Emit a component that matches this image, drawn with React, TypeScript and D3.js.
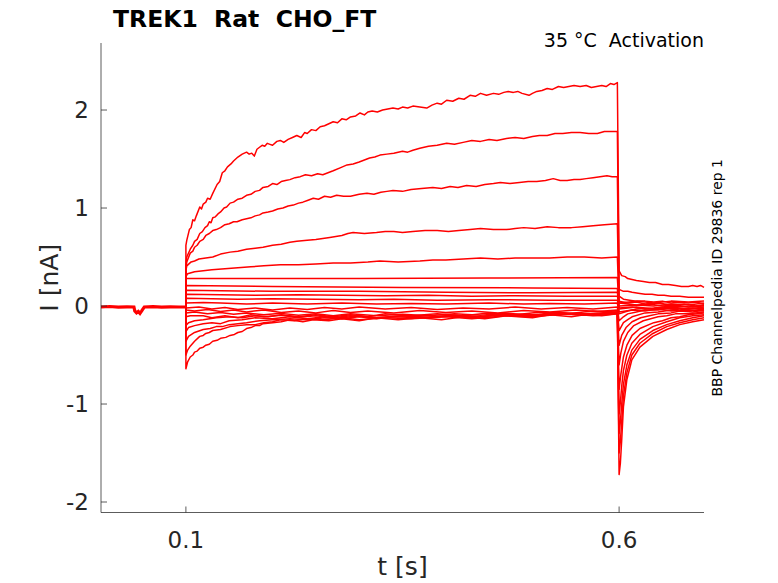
import { useEffect, useRef } from 'react';
import * as d3 from 'd3';

type Pt = [number, number];

// pre-pulse holding current (all sweeps overlap here)
const baseline: Pt[] = [
  [0.002, -0.01], [0.012, -0.005], [0.022, -0.012], [0.032, -0.008], [0.04, -0.01],
  [0.041, -0.05], [0.043, -0.07], [0.045, -0.055], [0.047, -0.075], [0.049, -0.05], [0.0505, -0.03],
  [0.052, -0.01], [0.062, -0.006], [0.072, -0.012], [0.082, -0.008], [0.092, -0.01], [0.1, -0.01],
];

// test pulse (0.1 - 0.6 s) per sweep
const stepA: Pt[] = [
  [0.1, 0.62], [0.101, 0.67], [0.104, 0.78], [0.106, 0.8], [0.108, 0.88], [0.11, 0.87], [0.112, 0.92],
  [0.116, 1.01], [0.118, 0.99], [0.12, 1.04], [0.123, 1.06], [0.125, 1.1], [0.128, 1.09], [0.131, 1.15],
  [0.136, 1.24], [0.139, 1.27], [0.142, 1.36], [0.145, 1.38], [0.148, 1.42], [0.152, 1.45],
  [0.155, 1.48], [0.16, 1.52], [0.165, 1.55], [0.17, 1.57], [0.173, 1.55], [0.176, 1.56],
  [0.179, 1.53], [0.182, 1.6], [0.185, 1.62], [0.188, 1.64], [0.191, 1.63], [0.194, 1.66],
  [0.197, 1.65], [0.2, 1.64], [0.205, 1.68], [0.209, 1.69], [0.213, 1.67], [0.218, 1.7],
  [0.223, 1.72], [0.228, 1.74], [0.233, 1.72], [0.237, 1.77], [0.24, 1.76], [0.245, 1.8],
  [0.25, 1.79], [0.255, 1.83], [0.26, 1.84], [0.265, 1.86], [0.27, 1.88], [0.275, 1.87],
  [0.28, 1.91], [0.285, 1.9], [0.29, 1.93], [0.296, 1.94], [0.301, 1.97], [0.306, 1.95],
  [0.31, 1.98], [0.315, 1.99], [0.321, 1.98], [0.327, 2.0], [0.333, 2.01], [0.339, 2.02],
  [0.345, 2.01], [0.35, 2.03], [0.356, 2.02], [0.362, 2.04], [0.37, 2.03], [0.378, 2.02],
  [0.384, 2.05], [0.39, 2.07], [0.395, 2.06], [0.401, 2.1], [0.408, 2.09], [0.415, 2.12],
  [0.421, 2.11], [0.428, 2.15], [0.434, 2.14], [0.44, 2.17], [0.447, 2.15], [0.455, 2.17],
  [0.461, 2.16], [0.467, 2.18], [0.472, 2.19], [0.478, 2.18], [0.483, 2.19], [0.488, 2.17],
  [0.496, 2.15], [0.5, 2.17], [0.505, 2.19], [0.511, 2.2], [0.517, 2.22], [0.523, 2.21],
  [0.53, 2.24], [0.536, 2.23], [0.542, 2.24], [0.548, 2.25], [0.555, 2.24], [0.562, 2.25],
  [0.568, 2.23], [0.574, 2.24], [0.58, 2.25], [0.585, 2.24], [0.59, 2.27], [0.594, 2.26],
  [0.598, 2.28],
];
const stepB: Pt[] = [
  [0.1, 0.42], [0.101, 0.5], [0.105, 0.58], [0.108, 0.62], [0.11, 0.66], [0.113, 0.68],
  [0.116, 0.74], [0.119, 0.76], [0.122, 0.8], [0.125, 0.82], [0.127, 0.86], [0.129, 0.85],
  [0.131, 0.9], [0.134, 0.91], [0.137, 0.94], [0.14, 0.96], [0.144, 1.0], [0.147, 1.01],
  [0.151, 1.05], [0.155, 1.06], [0.16, 1.09], [0.165, 1.1], [0.17, 1.13], [0.175, 1.14],
  [0.18, 1.17], [0.185, 1.18], [0.189, 1.21], [0.195, 1.22], [0.2, 1.25], [0.205, 1.24],
  [0.21, 1.27], [0.215, 1.28], [0.22, 1.29], [0.226, 1.31], [0.232, 1.32], [0.238, 1.34],
  [0.245, 1.33], [0.252, 1.35], [0.258, 1.34], [0.264, 1.36], [0.27, 1.38], [0.278, 1.41],
  [0.286, 1.44], [0.293, 1.45], [0.3, 1.47], [0.306, 1.49], [0.312, 1.51], [0.318, 1.52],
  [0.324, 1.54], [0.332, 1.55], [0.34, 1.56], [0.35, 1.58], [0.356, 1.57], [0.362, 1.59],
  [0.37, 1.61], [0.38, 1.63], [0.39, 1.64], [0.401, 1.66], [0.41, 1.65], [0.42, 1.67],
  [0.43, 1.69], [0.44, 1.68], [0.45, 1.7], [0.459, 1.69], [0.47, 1.71], [0.48, 1.72],
  [0.49, 1.71], [0.5, 1.73], [0.508, 1.74], [0.517, 1.74], [0.526, 1.76], [0.535, 1.76],
  [0.545, 1.77], [0.555, 1.77], [0.565, 1.76], [0.575, 1.76], [0.583, 1.78], [0.59, 1.78],
  [0.598, 1.78],
];
const stepC: Pt[] = [
  [0.1, 0.38], [0.101, 0.45], [0.105, 0.54], [0.108, 0.56], [0.11, 0.6], [0.113, 0.62],
  [0.116, 0.66], [0.12, 0.68], [0.123, 0.72], [0.127, 0.74], [0.131, 0.77], [0.135, 0.78],
  [0.14, 0.8], [0.145, 0.83], [0.15, 0.84], [0.155, 0.86], [0.159, 0.86], [0.165, 0.88],
  [0.17, 0.89], [0.175, 0.9], [0.18, 0.92], [0.185, 0.93], [0.189, 0.95], [0.195, 0.96],
  [0.2, 0.97], [0.206, 0.99], [0.212, 1.0], [0.218, 1.02], [0.224, 1.03], [0.23, 1.05],
  [0.235, 1.06], [0.241, 1.08], [0.247, 1.1], [0.253, 1.09], [0.26, 1.12], [0.267, 1.11],
  [0.274, 1.13], [0.282, 1.12], [0.29, 1.12], [0.3, 1.14], [0.309, 1.15], [0.317, 1.14],
  [0.325, 1.16], [0.332, 1.17], [0.339, 1.18], [0.35, 1.17], [0.36, 1.19], [0.372, 1.2],
  [0.385, 1.21], [0.395, 1.2], [0.405, 1.22], [0.414, 1.21], [0.424, 1.23], [0.435, 1.22],
  [0.445, 1.24], [0.455, 1.25], [0.463, 1.26], [0.474, 1.25], [0.485, 1.26], [0.495, 1.27],
  [0.505, 1.27], [0.515, 1.28], [0.524, 1.3], [0.532, 1.28], [0.54, 1.28], [0.548, 1.29],
  [0.555, 1.29], [0.562, 1.3], [0.57, 1.31], [0.578, 1.32], [0.586, 1.33], [0.592, 1.32],
  [0.598, 1.32],
];
const stepD: Pt[] = [
  [0.1, 0.36], [0.101, 0.41], [0.106, 0.45], [0.11, 0.46], [0.115, 0.48], [0.123, 0.49],
  [0.131, 0.5], [0.14, 0.53], [0.151, 0.55], [0.16, 0.56], [0.17, 0.58], [0.18, 0.59],
  [0.189, 0.6], [0.2, 0.62], [0.21, 0.63], [0.22, 0.65], [0.228, 0.66], [0.24, 0.67],
  [0.25, 0.68], [0.258, 0.69], [0.266, 0.7], [0.273, 0.71], [0.28, 0.72], [0.287, 0.74],
  [0.293, 0.75], [0.306, 0.74], [0.32, 0.75], [0.33, 0.76], [0.34, 0.76], [0.35, 0.75],
  [0.362, 0.76], [0.376, 0.77], [0.39, 0.77], [0.403, 0.76], [0.415, 0.77], [0.428, 0.78],
  [0.44, 0.79], [0.455, 0.78], [0.47, 0.78], [0.48, 0.79], [0.49, 0.8], [0.503, 0.79],
  [0.517, 0.81], [0.53, 0.8], [0.545, 0.8], [0.558, 0.81], [0.57, 0.82], [0.583, 0.83],
  [0.598, 0.84],
];
const stepE: Pt[] = [
  [0.1, 0.3], [0.102, 0.33], [0.106, 0.34], [0.11, 0.35], [0.12, 0.36], [0.13, 0.37],
  [0.145, 0.38], [0.16, 0.39], [0.175, 0.4], [0.19, 0.41], [0.209, 0.42], [0.23, 0.42],
  [0.25, 0.43], [0.27, 0.44], [0.29, 0.44], [0.31, 0.45], [0.324, 0.46], [0.345, 0.45],
  [0.37, 0.46], [0.385, 0.47], [0.4, 0.47], [0.42, 0.48], [0.44, 0.49], [0.46, 0.48],
  [0.48, 0.49], [0.5, 0.49], [0.52, 0.49], [0.54, 0.5], [0.56, 0.5], [0.58, 0.49], [0.598, 0.5],
];
const stepF: Pt[] = [[0.1, 0.28], [0.15, 0.28], [0.3, 0.28], [0.45, 0.285], [0.598, 0.29]];
const stepG: Pt[] = [[0.1, 0.21], [0.2, 0.2], [0.35, 0.19], [0.5, 0.185], [0.598, 0.18]];
const stepH: Pt[] = [[0.1, 0.16], [0.2, 0.15], [0.3, 0.15], [0.4, 0.14], [0.5, 0.135], [0.598, 0.14]];
const stepI: Pt[] = [
  [0.1, 0.12], [0.14, 0.115], [0.18, 0.11], [0.23, 0.115], [0.28, 0.11], [0.33, 0.105],
  [0.38, 0.11], [0.43, 0.1], [0.48, 0.105], [0.54, 0.1], [0.598, 0.1],
];
const stepJ: Pt[] = [
  [0.1, 0.08], [0.13, 0.075], [0.16, 0.07], [0.2, 0.075], [0.25, 0.07], [0.3, 0.065],
  [0.34, 0.07], [0.39, 0.06], [0.45, 0.065], [0.52, 0.06], [0.598, 0.06],
];
const stepK: Pt[] = [
  [0.1, 0.03], [0.12, 0.035], [0.14, 0.03], [0.17, 0.02], [0.2, 0.03], [0.24, 0.02],
  [0.28, 0.03], [0.32, 0.02], [0.36, 0.025], [0.4, 0.02], [0.45, 0.03], [0.49, 0.02],
  [0.52, 0.025], [0.56, 0.02], [0.598, 0.03],
];
const stepL: Pt[] = [
  [0.1, -0.02], [0.115, -0.01], [0.13, -0.03], [0.145, -0.015], [0.16, -0.035], [0.18, -0.02],
  [0.2, -0.04], [0.22, -0.02], [0.24, -0.035], [0.26, -0.015], [0.28, -0.03], [0.3, -0.01],
  [0.33, -0.03], [0.36, -0.015], [0.39, -0.035], [0.42, -0.02], [0.45, -0.03], [0.48, -0.01],
  [0.51, -0.03], [0.54, -0.015], [0.57, -0.03], [0.598, -0.01],
];
const stepM: Pt[] = [
  [0.1, -0.04], [0.11, -0.05], [0.125, -0.035], [0.14, -0.055], [0.155, -0.04], [0.17, -0.06],
  [0.19, -0.04], [0.21, -0.065], [0.23, -0.05], [0.25, -0.07], [0.27, -0.045], [0.29, -0.065],
  [0.31, -0.05], [0.34, -0.07], [0.37, -0.045], [0.4, -0.065], [0.43, -0.05], [0.46, -0.07],
  [0.49, -0.045], [0.52, -0.06], [0.55, -0.04], [0.575, -0.055], [0.598, -0.04],
];
const stepN: Pt[] = [
  [0.1, -0.07], [0.11, -0.06], [0.125, -0.08], [0.14, -0.065], [0.155, -0.085], [0.17, -0.07],
  [0.19, -0.09], [0.21, -0.075], [0.23, -0.095], [0.25, -0.08], [0.27, -0.1], [0.29, -0.08],
  [0.32, -0.1], [0.35, -0.085], [0.38, -0.1], [0.41, -0.08], [0.44, -0.095], [0.47, -0.075],
  [0.5, -0.09], [0.53, -0.065], [0.56, -0.08], [0.598, -0.06],
];
const stepO: Pt[] = [
  [0.1, -0.11], [0.105, -0.1], [0.12, -0.1], [0.13, -0.12], [0.145, -0.1], [0.16, -0.12],
  [0.175, -0.09], [0.19, -0.11], [0.21, -0.095], [0.23, -0.115], [0.25, -0.1], [0.27, -0.12],
  [0.29, -0.1], [0.32, -0.12], [0.35, -0.1], [0.38, -0.115], [0.41, -0.095], [0.44, -0.11],
  [0.47, -0.09], [0.5, -0.105], [0.53, -0.08], [0.56, -0.095], [0.598, -0.07],
];
const stepP: Pt[] = [
  [0.1, -0.2], [0.103, -0.17], [0.11, -0.15], [0.12, -0.14], [0.135, -0.12], [0.15, -0.11],
  [0.165, -0.12], [0.18, -0.1], [0.195, -0.11], [0.21, -0.09], [0.23, -0.11], [0.25, -0.09],
  [0.27, -0.11], [0.29, -0.09], [0.31, -0.11], [0.33, -0.08], [0.36, -0.1], [0.39, -0.08],
  [0.42, -0.1], [0.45, -0.07], [0.48, -0.09], [0.51, -0.06], [0.54, -0.08], [0.57, -0.05],
  [0.598, -0.06],
];
const stepQ: Pt[] = [
  [0.1, -0.26], [0.103, -0.22], [0.11, -0.2], [0.12, -0.18], [0.13, -0.17], [0.14, -0.18],
  [0.15, -0.15], [0.165, -0.14], [0.18, -0.12], [0.2, -0.13], [0.22, -0.11], [0.24, -0.13],
  [0.26, -0.11], [0.28, -0.12], [0.3, -0.1], [0.32, -0.12], [0.35, -0.1], [0.38, -0.12],
  [0.41, -0.1], [0.44, -0.11], [0.47, -0.08], [0.5, -0.1], [0.53, -0.07], [0.56, -0.09],
  [0.598, -0.07],
];
const stepR: Pt[] = [
  [0.1, -0.36], [0.103, -0.31], [0.11, -0.27], [0.12, -0.24], [0.128, -0.23], [0.135, -0.21],
  [0.142, -0.21], [0.15, -0.19], [0.16, -0.18], [0.17, -0.17], [0.185, -0.15], [0.2, -0.14],
  [0.22, -0.13], [0.24, -0.14], [0.26, -0.12], [0.28, -0.13], [0.3, -0.11], [0.32, -0.13],
  [0.34, -0.11], [0.37, -0.12], [0.4, -0.1], [0.43, -0.12], [0.46, -0.09], [0.5, -0.1],
  [0.54, -0.08], [0.57, -0.09], [0.598, -0.06],
];
const stepS: Pt[] = [
  [0.1, -0.5], [0.102, -0.45], [0.105, -0.41], [0.11, -0.36], [0.116, -0.31], [0.12, -0.3],
  [0.123, -0.28], [0.127, -0.27], [0.131, -0.25], [0.14, -0.24], [0.151, -0.21], [0.16, -0.2],
  [0.17, -0.19], [0.18, -0.19], [0.19, -0.17], [0.2, -0.16], [0.209, -0.14], [0.225, -0.15],
  [0.24, -0.13], [0.26, -0.14], [0.28, -0.12], [0.3, -0.14], [0.33, -0.12], [0.36, -0.13],
  [0.4, -0.11], [0.43, -0.13], [0.47, -0.1], [0.5, -0.11], [0.54, -0.08], [0.57, -0.1],
  [0.598, -0.08],
];
const stepT: Pt[] = [
  [0.1, -0.64], [0.102, -0.57], [0.105, -0.52], [0.108, -0.5], [0.11, -0.47], [0.113, -0.46],
  [0.116, -0.43], [0.12, -0.42], [0.123, -0.4], [0.127, -0.39], [0.131, -0.36], [0.136, -0.35],
  [0.14, -0.33], [0.146, -0.32], [0.151, -0.3], [0.156, -0.29], [0.16, -0.27], [0.165, -0.26],
  [0.17, -0.23], [0.175, -0.22], [0.18, -0.2], [0.185, -0.2], [0.189, -0.18], [0.2, -0.17],
  [0.21, -0.16], [0.22, -0.14], [0.235, -0.16], [0.247, -0.14], [0.265, -0.15], [0.28, -0.13],
  [0.3, -0.15], [0.32, -0.12], [0.345, -0.14], [0.37, -0.12], [0.395, -0.14], [0.42, -0.11],
  [0.445, -0.13], [0.47, -0.1], [0.5, -0.12], [0.52, -0.09], [0.545, -0.11], [0.56, -0.09],
  [0.58, -0.1], [0.598, -0.08],
];

// tail currents after the pulse (0.6 s on)
const tailA: Pt[] = [
  [0.6, 0.36], [0.603, 0.31], [0.607, 0.3], [0.61, 0.28], [0.615, 0.27], [0.62, 0.26],
  [0.628, 0.25], [0.635, 0.24], [0.642, 0.24], [0.65, 0.22], [0.657, 0.22], [0.665, 0.21],
  [0.672, 0.2], [0.68, 0.2], [0.685, 0.21], [0.69, 0.2], [0.694, 0.21], [0.698, 0.19],
];
const tailB: Pt[] = [
  [0.6, 0.17], [0.605, 0.15], [0.61, 0.15], [0.615, 0.14], [0.622, 0.13], [0.63, 0.12],
  [0.638, 0.12], [0.645, 0.11], [0.652, 0.11], [0.66, 0.1], [0.67, 0.1], [0.68, 0.09],
  [0.69, 0.09], [0.698, 0.09],
];
const tailC: Pt[] = [[0.6, 0.1], [0.605, 0.07], [0.612, 0.06], [0.62, 0.05], [0.63, 0.05], [0.64, 0.04], [0.65, 0.05], [0.66, 0.03], [0.67, 0.04], [0.68, 0.03], [0.69, 0.04], [0.698, 0.02]];
const tailD: Pt[] = [[0.6, 0.05], [0.61, 0.03], [0.62, 0.04], [0.63, 0.02], [0.645, 0.03], [0.66, 0.01], [0.675, 0.02], [0.688, 0.0], [0.698, 0.01]];
const tailE: Pt[] = [[0.6, 0.03], [0.61, 0.02], [0.62, 0.01], [0.635, 0.02], [0.65, 0.0], [0.665, 0.01], [0.68, -0.01], [0.698, 0.0]];
const tailF: Pt[] = [[0.6, -0.02], [0.615, -0.01], [0.63, -0.03], [0.65, -0.02], [0.67, -0.04], [0.685, -0.02], [0.698, -0.03]];
const tailG: Pt[] = [[0.6, -0.06], [0.615, -0.04], [0.63, -0.05], [0.645, -0.03], [0.66, -0.05], [0.68, -0.04], [0.698, -0.05]];
const tailH: Pt[] = [[0.6, 0.0], [0.62, 0.01], [0.64, 0.0], [0.66, 0.02], [0.68, 0.01], [0.698, 0.03]];
const tailI: Pt[] = [[0.6, 0.03], [0.62, 0.05], [0.64, 0.03], [0.66, 0.05], [0.68, 0.04], [0.698, 0.05]];
const tailJ: Pt[] = [[0.6, -0.03], [0.62, -0.01], [0.64, -0.03], [0.66, -0.01], [0.68, -0.03], [0.698, -0.02]];
const tailK: Pt[] = [[0.6, -0.08], [0.61, -0.05], [0.62, -0.03], [0.64, -0.02], [0.66, 0.0], [0.68, -0.01], [0.698, 0.01]];
const tailL: Pt[] = [[0.6, -0.15], [0.605, -0.11], [0.61, -0.08], [0.62, -0.06], [0.63, -0.04], [0.645, -0.04], [0.66, -0.02], [0.68, -0.03], [0.698, -0.01]];
const tailM: Pt[] = [[0.6, -0.25], [0.605, -0.17], [0.61, -0.14], [0.615, -0.11], [0.63, -0.07], [0.645, -0.06], [0.66, -0.04], [0.68, -0.05], [0.698, -0.03]];
const tailN: Pt[] = [[0.6, -0.4], [0.603, -0.3], [0.608, -0.22], [0.615, -0.16], [0.625, -0.12], [0.635, -0.1], [0.645, -0.08], [0.66, -0.07], [0.67, -0.05], [0.685, -0.06], [0.698, -0.04]];
const tailO: Pt[] = [[0.6, -0.6], [0.602, -0.48], [0.605, -0.36], [0.61, -0.27], [0.617, -0.2], [0.628, -0.15], [0.645, -0.11], [0.655, -0.1], [0.665, -0.08], [0.68, -0.08], [0.698, -0.06]];
const tailP: Pt[] = [[0.6, -0.85], [0.602, -0.7], [0.605, -0.52], [0.609, -0.4], [0.615, -0.3], [0.624, -0.23], [0.64, -0.17], [0.65, -0.15], [0.66, -0.12], [0.67, -0.11], [0.68, -0.09], [0.698, -0.07]];
const tailQ: Pt[] = [[0.6, -1.1], [0.6015, -0.98], [0.603, -0.82], [0.605, -0.66], [0.609, -0.5], [0.6147, -0.38], [0.624, -0.29], [0.639, -0.21], [0.655, -0.16], [0.67, -0.12], [0.685, -0.1], [0.698, -0.09]];
const tailR: Pt[] = [[0.6, -1.3], [0.6015, -1.18], [0.603, -1.0], [0.605, -0.8], [0.609, -0.6], [0.6147, -0.45], [0.624, -0.34], [0.639, -0.25], [0.655, -0.19], [0.67, -0.15], [0.685, -0.12], [0.698, -0.1]];
const tailS: Pt[] = [[0.6, -1.5], [0.6015, -1.38], [0.603, -1.18], [0.605, -0.92], [0.609, -0.68], [0.6147, -0.5], [0.624, -0.38], [0.639, -0.28], [0.655, -0.21], [0.67, -0.17], [0.685, -0.14], [0.698, -0.12]];
const tailT: Pt[] = [[0.6, -1.72], [0.6015, -1.6], [0.603, -1.37], [0.605, -1.03], [0.609, -0.75], [0.6147, -0.55], [0.624, -0.42], [0.639, -0.31], [0.655, -0.24], [0.67, -0.19], [0.685, -0.16], [0.698, -0.14]];

const sweeps: Array<[Pt[], Pt[]]> = [
  [stepA, tailA], [stepB, tailB], [stepC, tailC], [stepD, tailD], [stepE, tailE],
  [stepF, tailF], [stepG, tailG], [stepH, tailH], [stepI, tailI], [stepJ, tailJ],
  [stepK, tailK], [stepL, tailL], [stepM, tailM], [stepN, tailN], [stepO, tailO],
  [stepP, tailP], [stepQ, tailQ], [stepR, tailR], [stepS, tailS], [stepT, tailT],
];

const xTicks = [0.1, 0.6];
const yTicks = [-2, -1, 0, 1, 2];

const WIDTH = 778;
const HEIGHT = 583;
const FONT = '"DejaVu Sans", sans-serif';

export default function App() {
  const svgRef = useRef<SVGSVGElement>(null);

  useEffect(() => {
    if (!svgRef.current) return;
    document.body.style.margin = '0';

    const svg = d3.select(svgRef.current);
    svg.selectAll('*').remove();

    const left = 101;
    const right = 704;
    const top = 43;
    const bottom = 512.5;

    const x = d3.scaleLinear().domain([0.002, 0.698]).range([left, right]);
    const y = d3.scaleLinear().domain([-2.107, 2.684]).range([bottom, top]);

    const line = d3
      .line<Pt>()
      .x((d) => x(d[0]))
      .y((d) => y(d[1]));

    const traces = svg.append('g');

    // Each sweep: baseline -> pulse -> tail
    sweeps.forEach(([step, tail]) => {
      traces
        .append('path')
        .datum([[0.1, -0.01] as Pt, ...step, ...tail])
        .attr('fill', 'none')
        .attr('stroke', '#ff0000')
        .attr('stroke-width', 1.5)
        .attr('stroke-linejoin', 'round')
        .attr('d', line);
    });

    traces
      .append('path')
      .datum(baseline)
      .attr('fill', 'none')
      .attr('stroke', '#ff0000')
      .attr('stroke-width', 3.2)
      .attr('d', line);

    // Axes (MATLAB style, ticks inward, no box)
    const axisColor = '#262626';
    const axes = svg.append('g');
    axes
      .append('line')
      .attr('x1', left)
      .attr('x2', left)
      .attr('y1', top)
      .attr('y2', bottom)
      .attr('stroke', axisColor)
      .attr('stroke-opacity', 0.75);
    axes
      .append('line')
      .attr('x1', left)
      .attr('x2', right)
      .attr('y1', bottom)
      .attr('y2', bottom)
      .attr('stroke', axisColor)
      .attr('stroke-opacity', 0.75);

    xTicks.forEach((t) => {
      axes
        .append('line')
        .attr('x1', x(t))
        .attr('x2', x(t))
        .attr('y1', bottom)
        .attr('y2', bottom - 6)
        .attr('stroke', axisColor)
        .attr('stroke-opacity', 0.75);
      axes
        .append('text')
        .attr('x', x(t))
        .attr('y', bottom + 35)
        .attr('text-anchor', 'middle')
        .attr('font-family', FONT)
        .attr('font-size', 23)
        .attr('fill', axisColor)
        .text(String(t));
    });

    yTicks.forEach((v) => {
      axes
        .append('line')
        .attr('x1', left)
        .attr('x2', left + 6)
        .attr('y1', y(v))
        .attr('y2', y(v))
        .attr('stroke', axisColor)
        .attr('stroke-opacity', 0.75);
      axes
        .append('text')
        .attr('x', left - 12)
        .attr('y', y(v))
        .attr('dy', '0.36em')
        .attr('text-anchor', 'end')
        .attr('font-family', FONT)
        .attr('font-size', 23)
        .attr('fill', axisColor)
        .text(String(v));
    });

    // Labels
    svg
      .append('text')
      .attr('x', (left + right) / 2)
      .attr('y', 575)
      .attr('text-anchor', 'middle')
      .attr('font-family', FONT)
      .attr('font-size', 25)
      .attr('fill', axisColor)
      .text('t [s]');

    svg
      .append('text')
      .attr('transform', `translate(58, ${(top + bottom) / 2}) rotate(-90)`)
      .attr('text-anchor', 'middle')
      .attr('font-family', FONT)
      .attr('font-size', 25)
      .attr('fill', axisColor)
      .text('I [nA]');

    svg
      .append('text')
      .attr('x', 113)
      .attr('y', 27)
      .attr('font-family', FONT)
      .attr('font-weight', 'bold')
      .attr('font-size', 23.5)
      .attr('fill', '#000')
      .style('white-space', 'pre')
      .text('TREK1  Rat  CHO_FT');

    svg
      .append('text')
      .attr('x', right)
      .attr('y', 47)
      .attr('text-anchor', 'end')
      .attr('font-family', FONT)
      .attr('font-size', 19)
      .attr('fill', '#000')
      .style('white-space', 'pre')
      .text('35 °C  Activation');

    svg
      .append('text')
      .attr('transform', `translate(722, ${(top + bottom) / 2}) rotate(-90)`)
      .attr('text-anchor', 'middle')
      .attr('font-family', FONT)
      .attr('font-size', 14)
      .attr('fill', '#000')
      .text('BBP Channelpedia ID 29836 rep 1');
  }, []);

  return (
    <svg
      ref={svgRef}
      width={WIDTH}
      height={HEIGHT}
      style={{ display: 'block', background: '#fff' }}
    />
  );
}
